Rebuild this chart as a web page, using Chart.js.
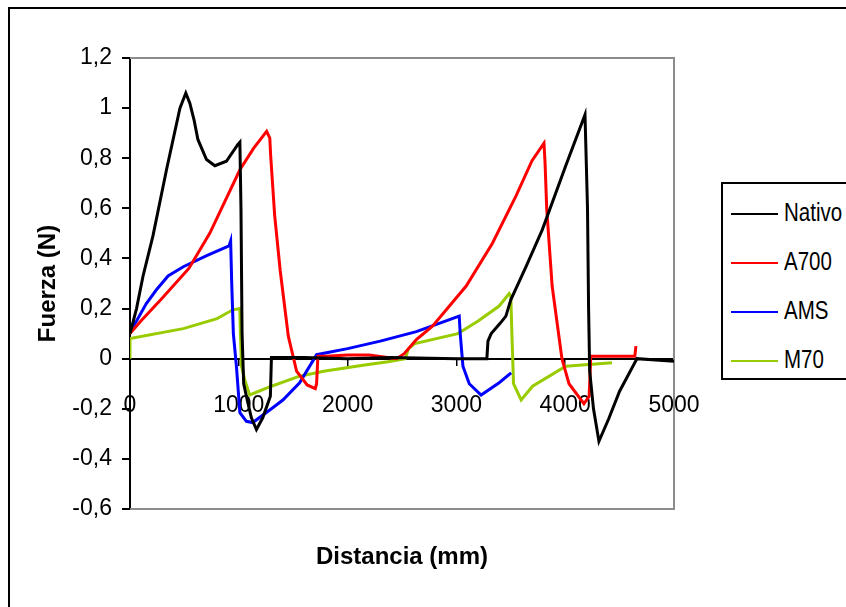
<!DOCTYPE html>
<html>
<head>
<meta charset="utf-8">
<script src="https://cdn.jsdelivr.net/npm/chart.js@4.4.1/dist/chart.umd.min.js"></script>
<style>
    body { margin: 0; width: 846px; height: 607px; overflow: hidden; background: #fff; position: relative; }
    #frame { position: absolute; left: 8px; top: 7px; width: 900px; height: 700px; border-left: 2px solid #000; border-top: 2px solid #000; }
    #chart { position: absolute; left: 0; top: 0; }
    #legend { position: absolute; left: 721px; top: 182px; width: 150px; height: 194px; border: 2px solid #000; background: #fff;
        font-family: 'Liberation Sans', Arial, sans-serif; font-size: 25px; color: #000; }
    .item { position: absolute; left: 8px; height: 30px; line-height: 30px; white-space: nowrap; }
    .item .line { display: inline-block; width: 47px; height: 2px; vertical-align: middle; margin-right: 6px; }
    .item .txt { display: inline-block; transform: scaleX(0.82); transform-origin: left center; }
</style>
</head>
<body>
<div id="frame"></div>
<canvas id="chart" width="846" height="607"></canvas>
<div id="legend"></div>
<script>
// Series names and colours
const seriesNames = ['Nativo', 'A700', 'AMS', 'M70'];
const seriesColors = ['#000000', '#ff0000', '#0000ff', '#99cc00'];

// Distancia (mm) / Fuerza (N)
const nativoX = [0, 60, 120, 211, 336, 459, 513, 550, 590, 624, 703, 780, 886, 990, 1010, 1020, 1030, 1045, 1080, 1115, 1162, 1220, 1290, 1300, 1600, 2000, 2400, 3000, 3280, 3290, 3320, 3400, 3455, 3500, 3640, 3790, 4005, 4182, 4205, 4215, 4225, 4260, 4310, 4400, 4500, 4660, 5000];
const nativoY = [0.1, 0.2, 0.33, 0.49, 0.755, 1.0, 1.06, 1.02, 0.95, 0.875, 0.795, 0.77, 0.788, 0.854, 0.864, 0.6, 0.1, -0.1, -0.17, -0.235, -0.283, -0.236, -0.15, 0.005, 0.005, 0.0, 0.005, 0.0, 0.0, 0.07, 0.1, 0.14, 0.17, 0.235, 0.367, 0.515, 0.77, 0.974, 0.6, 0.2, -0.05, -0.2, -0.33, -0.24, -0.13, 0.0, -0.01];

const a700X = [0, 100, 293, 541, 733, 1010, 1137, 1256, 1285, 1293, 1330, 1381, 1455, 1531, 1628, 1703, 1715, 1727, 1800, 2000, 2200, 2450, 2520, 2632, 2780, 3090, 3330, 3548, 3695, 3805, 3815, 3830, 3880, 3970, 4035, 4172, 4220, 4235, 4400, 4640, 4650];
const a700Y = [0.1, 0.15, 0.24, 0.36, 0.5, 0.754, 0.84, 0.907, 0.88, 0.81, 0.57, 0.35, 0.09, -0.05, -0.105, -0.12, -0.1, 0.01, 0.01, 0.015, 0.015, 0.0, 0.02, 0.076, 0.13, 0.29, 0.46, 0.65, 0.79, 0.86, 0.78, 0.6, 0.29, 0.0, -0.1, -0.18, -0.15, 0.01, 0.01, 0.01, 0.05];

const amsX = [0, 60, 150, 243, 350, 490, 700, 910, 925, 935, 950, 978, 1010, 1070, 1128, 1300, 1405, 1559, 1715, 2000, 2300, 2632, 3026, 3035, 3060, 3118, 3227, 3393, 3503];
const amsY = [0.11, 0.15, 0.22, 0.275, 0.33, 0.367, 0.41, 0.45, 0.47, 0.3, 0.1, -0.03, -0.216, -0.25, -0.255, -0.2, -0.165, -0.096, 0.016, 0.04, 0.07, 0.108, 0.17, 0.1, -0.03, -0.1, -0.145, -0.096, -0.057];

const m70X = [0, 0, 490, 800, 945, 1009, 1015, 1025, 1055, 1100, 1300, 1559, 1779, 2173, 2371, 2530, 2560, 2618, 3014, 3200, 3393, 3485, 3500, 3510, 3525, 3595, 3700, 4005, 4430];
const m70Y = [0, 0.08, 0.12, 0.16, 0.195, 0.2, 0.1, -0.03, -0.085, -0.145, -0.11, -0.07, -0.05, -0.024, -0.012, 0.0, 0.04, 0.06, 0.1, 0.15, 0.21, 0.26, 0.25, 0.1, -0.1, -0.165, -0.11, -0.03, -0.016];

// Axis ticks
const xTicks = [0, 1000, 2000, 3000, 4000, 5000];
const yTicks = [-0.6, -0.4, -0.2, 0, 0.2, 0.4, 0.6, 0.8, 1, 1.2];

const seriesX = [nativoX, a700X, amsX, m70X];
const seriesY = [nativoY, a700Y, amsY, m70Y];

const sans = "'Liberation Sans', Arial, sans-serif";

function toPoints(xs, ys) {
    return xs.map((x, i) => ({ x: x, y: ys[i] }));
}

const datasets = seriesNames.map((name, i) => ({
    label: name,
    data: toPoints(seriesX[i], seriesY[i]),
    borderColor: seriesColors[i],
    borderWidth: 3,
    pointRadius: 0,
    tension: 0,
    fill: false
}));

// plot frame: grey top, right, bottom
const frameLines = {
    id: 'frameLines',
    beforeDatasetsDraw(chart) {
        const { ctx, chartArea: a } = chart;
        ctx.save();
        ctx.strokeStyle = '#8c8c8c';
        ctx.lineWidth = 2;
        ctx.beginPath();
        ctx.moveTo(a.left, a.top);
        ctx.lineTo(a.right, a.top);
        ctx.lineTo(a.right, a.bottom);
        ctx.lineTo(a.left, a.bottom);
        ctx.stroke();
        ctx.restore();
    }
};

new Chart(document.getElementById('chart'), {
    type: 'line',
    data: { datasets: datasets },
    plugins: [frameLines],
    options: {
        responsive: false,
        animation: false,
        layout: { padding: { top: 58, right: 172, bottom: 0, left: 0 } },
        plugins: {
            legend: { display: false },
            tooltip: { enabled: false }
        },
        scales: {
            x: {
                type: 'linear',
                position: { y: 0 },
                min: 0,
                max: 5000,
                afterBuildTicks: (s) => { s.ticks = xTicks.map((v) => ({ value: v })); },
                afterFit: (s) => { s.height = 0; },
                ticks: {
                    padding: 27,
                    color: '#000',
                    font: { family: sans, size: 23 },
                    maxRotation: 0,
                    callback: (v) => String(v)
                },
                grid: { drawOnChartArea: false, tickLength: 6, color: '#000', lineWidth: 1.5 },
                border: { color: '#000', width: 2 }
            },
            x2: {
                type: 'linear',
                position: 'bottom',
                min: 0,
                max: 5000,
                afterFit: (s) => { s.height = 98; },
                ticks: { display: false },
                grid: { display: false },
                border: { display: false },
                title: {
                    display: true,
                    text: 'Distancia (mm)',
                    color: '#000',
                    font: { family: sans, size: 24, weight: 'bold' },
                    padding: { top: 0, bottom: 35 }
                }
            },
            y: {
                min: -0.6,
                max: 1.2,
                afterBuildTicks: (s) => { s.ticks = yTicks.map((v) => ({ value: v })); },
                afterFit: (s) => { s.width = 130; },
                ticks: {
                    padding: 10,
                    color: '#000',
                    font: { family: sans, size: 23 },
                    callback: (v) => String(Math.round(v * 10) / 10).replace('.', ',')
                },
                grid: { drawOnChartArea: false, tickLength: 8, color: '#000', lineWidth: 2 },
                border: { color: '#000', width: 2 },
                title: {
                    display: true,
                    text: 'Fuerza (N)',
                    color: '#000',
                    font: { family: sans, size: 24, weight: 'bold' },
                    padding: { top: 34, bottom: 0 }
                }
            }
        }
    }
});

// Legend box
const legend = document.getElementById('legend');
seriesNames.forEach((name, i) => {
    const item = document.createElement('div');
    item.className = 'item';
    item.style.top = (13 + i * 49) + 'px';
    const line = document.createElement('span');
    line.className = 'line';
    line.style.background = seriesColors[i];
    const txt = document.createElement('span');
    txt.className = 'txt';
    txt.textContent = name;
    item.appendChild(line);
    item.appendChild(txt);
    legend.appendChild(item);
});
</script>
</body>
</html>
